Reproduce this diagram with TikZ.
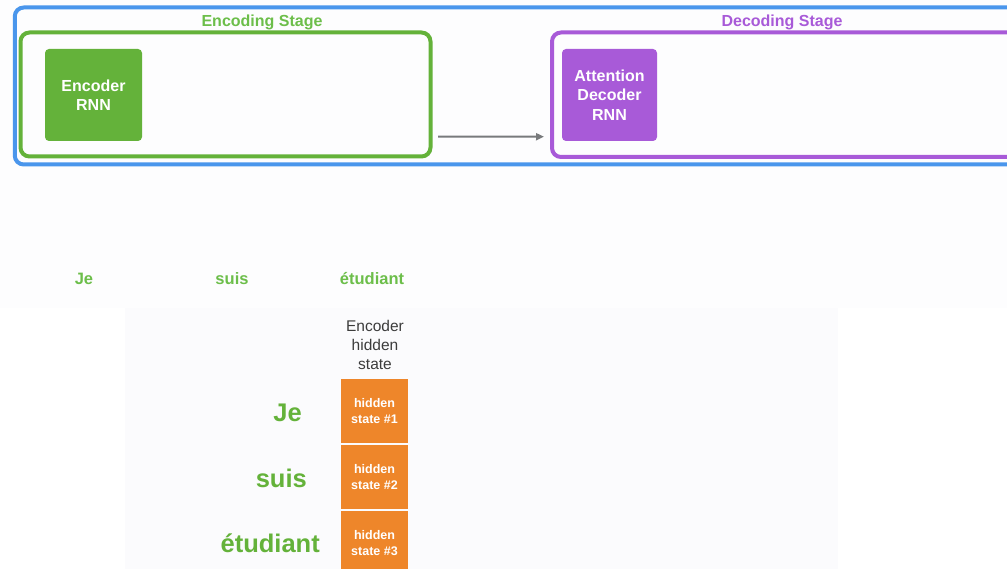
\documentclass[tikz,border=0pt]{standalone}
\usepackage{fontspec}
\setmainfont{Liberation Sans}
\usetikzlibrary{arrows.meta}
\definecolor{stageblue}{RGB}{74,150,236}
\definecolor{encgreen}{RGB}{100,178,58}
\definecolor{wordgreen}{RGB}{108,190,74}
\definecolor{decpurple}{RGB}{168,90,216}
\definecolor{hsorange}{RGB}{238,134,42}
\definecolor{arrowgray}{RGB}{120,122,124}
\definecolor{labelgray}{RGB}{60,60,60}
\definecolor{paper}{RGB}{253,253,254}
\definecolor{panel}{RGB}{251,251,253}
\tikzset{
  frame/.style={draw, line width=4pt, rounded corners=9pt, inner sep=0pt},
  rnnbox/.style={fill=#1, rounded corners=4pt, inner sep=0pt, text=white,
    align=center, font=\bfseries\fontsize{16}{19.5}\selectfont},
  stagelabel/.style={text=#1, font=\bfseries\fontsize{16}{18}\selectfont},
  smallword/.style={text=wordgreen, font=\bfseries\fontsize{16.5}{18}\selectfont, anchor=base},
  bigword/.style={text=encgreen, font=\bfseries\fontsize{25.5}{28}\selectfont,
    anchor=base east, inner sep=0pt},
  hsbox/.style={fill=hsorange, minimum width=67pt, minimum height=64pt, inner sep=0pt,
    text=white, align=center, font=\bfseries\fontsize{12.5}{16}\selectfont},
}
\begin{document}
\begin{tikzpicture}[x=1pt, y=-1pt]
\useasboundingbox (0,0) rectangle (1007,569);
\clip (0,0) rectangle (1007,569);
% backgrounds
\fill[paper] (0,0) rectangle (1007,308);
\fill[white] (0,308) rectangle (1007,569);
\fill[panel] (125,308) rectangle (838,569);

% overall pipeline frame
\node[frame, draw=stageblue, minimum width=1010pt, minimum height=157pt] (pipeline) at (519.75,86) {};

% encoding stage
\node[stagelabel=wordgreen] (enclabel) at (262,22) {Encoding Stage};
\node[frame, draw=encgreen, minimum width=410pt, minimum height=124pt] (encstage) at (225.5,94.5) {};
\node[rnnbox=encgreen, minimum width=97pt, minimum height=92pt] (encrnn) at (93.5,95) {Encoder\\RNN};

% decoding stage
\node[stagelabel=decpurple] (declabel) at (782,22) {Decoding Stage};
\node[frame, draw=decpurple, minimum width=480pt, minimum height=124.5pt] (decstage) at (792,94.75) {};
\node[rnnbox=decpurple, minimum width=95pt, minimum height=92pt] (decrnn) at (609.5,95) {Attention\\Decoder\\RNN};

% hand-over from encoder to decoder
\draw[arrowgray, line width=2pt, -{Triangle[length=8pt,width=7pt]},
  shorten <=5.5pt, shorten >=6pt]
  ([yshift=-42pt]encstage.east) -- ([yshift=-42pt]decstage.west);

% input sentence
\node[smallword] (w1) at (84,285) {Je};
\node[smallword] (w2) at (232,285) {suis};
\node[smallword] (w3) at (372,285) {étudiant};

% encoder hidden states
\node[text=labelgray, align=center, font=\fontsize{15.5}{19}\selectfont] (hslabel) at (375,345) {Encoder\\hidden\\state};
\node[hsbox] (hs1) at (374.5,411) {hidden\\state \#1};
\node[hsbox] (hs2) at (374.5,477) {hidden\\state \#2};
\node[hsbox] (hs3) at (374.5,543) {hidden\\state \#3};

\node[bigword] (bw1) at (302,421) {Je};
\node[bigword] (bw2) at (307,487) {suis};
\node[bigword] (bw3) at (320,552.5) {étudiant};
\end{tikzpicture}
\end{document}
